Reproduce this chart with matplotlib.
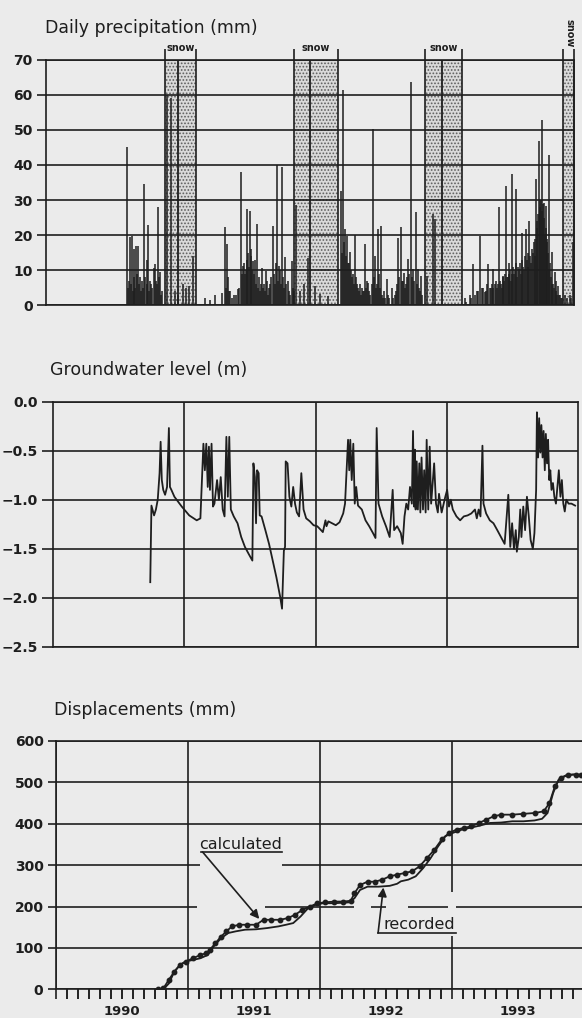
import matplotlib
matplotlib.use('Agg')
from matplotlib import pyplot as plt
from matplotlib.patches import Rectangle
from matplotlib.transforms import blended_transform_factory

W, H = 582, 1018
INK = '#1e1e1e'
PAPER = '#ebebeb'

# ---- daily precipitation (year, mm) ----
rain_time = [
    1990.611, 1990.620, 1990.628, 1990.636, 1990.642, 1990.650, 1990.657, 1990.663, 1990.669, 1990.676,
    1990.683, 1990.689, 1990.698, 1990.703, 1990.712, 1990.718, 1990.725, 1990.733, 1990.745, 1990.752,
    1990.762, 1990.768, 1990.775, 1990.783, 1990.790, 1990.795, 1990.804, 1990.818, 1990.827, 1990.833,
    1990.840, 1990.851, 1990.857, 1990.864, 1990.870, 1990.879, 1990.914, 1990.947, 1990.977, 1991.000,
    1991.038, 1991.061, 1991.083, 1991.114, 1991.205, 1991.242, 1991.280, 1991.331, 1991.356, 1991.362,
    1991.371, 1991.378, 1991.386, 1991.394, 1991.410, 1991.424, 1991.440, 1991.452, 1991.460, 1991.475,
    1991.483, 1991.490, 1991.498, 1991.508, 1991.513, 1991.520, 1991.525, 1991.530, 1991.538, 1991.545,
    1991.550, 1991.553, 1991.560, 1991.566, 1991.575, 1991.583, 1991.590, 1991.598, 1991.605, 1991.614,
    1991.622, 1991.630, 1991.639, 1991.645, 1991.652, 1991.660, 1991.667, 1991.675, 1991.682, 1991.689,
    1991.697, 1991.705, 1991.717, 1991.725, 1991.735, 1991.742, 1991.752, 1991.760, 1991.767, 1991.775,
    1991.783, 1991.790, 1991.798, 1991.805, 1991.811, 1991.820, 1991.833, 1991.840, 1991.850, 1991.861,
    1991.870, 1991.880, 1991.894, 1991.924, 1991.955, 1991.987, 1992.038, 1992.076, 1992.139, 1992.233,
    1992.240, 1992.248, 1992.256, 1992.265, 1992.272, 1992.283, 1992.288, 1992.295, 1992.303, 1992.310,
    1992.318, 1992.326, 1992.333, 1992.341, 1992.348, 1992.356, 1992.364, 1992.371, 1992.379, 1992.386,
    1992.394, 1992.402, 1992.410, 1992.417, 1992.425, 1992.432, 1992.442, 1992.450, 1992.458, 1992.467,
    1992.475, 1992.483, 1992.492, 1992.500, 1992.508, 1992.517, 1992.525, 1992.530, 1992.538, 1992.545,
    1992.550, 1992.561, 1992.570, 1992.581, 1992.590, 1992.600, 1992.619, 1992.630, 1992.644, 1992.650,
    1992.660, 1992.669, 1992.675, 1992.687, 1992.697, 1992.705, 1992.712, 1992.720, 1992.727, 1992.735,
    1992.745, 1992.750, 1992.763, 1992.770, 1992.783, 1992.790, 1992.803, 1992.810, 1992.820, 1992.826,
    1992.835, 1992.841, 1992.850, 1992.884, 1992.934, 1992.947, 1993.174, 1993.180, 1993.212, 1993.220,
    1993.237, 1993.250, 1993.265, 1993.275, 1993.288, 1993.300, 1993.311, 1993.326, 1993.330, 1993.341,
    1993.351, 1993.360, 1993.371, 1993.380, 1993.384, 1993.390, 1993.402, 1993.410, 1993.417, 1993.425,
    1993.432, 1993.440, 1993.447, 1993.455, 1993.460, 1993.465, 1993.470, 1993.478, 1993.485, 1993.490,
    1993.500, 1993.505, 1993.510, 1993.515, 1993.523, 1993.528, 1993.533, 1993.538, 1993.545, 1993.550,
    1993.558, 1993.563, 1993.568, 1993.575, 1993.583, 1993.590, 1993.598, 1993.603, 1993.608, 1993.615,
    1993.621, 1993.628, 1993.636, 1993.642, 1993.648, 1993.655, 1993.661, 1993.668, 1993.674, 1993.680,
    1993.687, 1993.695, 1993.701, 1993.705, 1993.712, 1993.717, 1993.723, 1993.728, 1993.735, 1993.740,
    1993.746, 1993.750, 1993.755, 1993.760, 1993.765, 1993.770, 1993.773, 1993.780, 1993.785, 1993.788,
    1993.793, 1993.799, 1993.803, 1993.808, 1993.812, 1993.818, 1993.825, 1993.833, 1993.837, 1993.841,
    1993.848, 1993.856, 1993.860, 1993.867, 1993.872, 1993.881, 1993.887, 1993.894, 1993.900, 1993.910,
    1993.930, 1993.950, 1993.970, 1993.980, 1993.996,
]
rain_mm = [
    45, 5, 7, 19.6, 6, 19.8, 4, 8, 16, 5,
    17, 9, 17, 6, 8, 4, 7, 5, 34.6, 8,
    13, 6, 23, 4, 7, 6, 5, 10.8, 11.7, 7,
    6, 28, 8, 9.4, 3, 4, 60, 59, 4, 3,
    6, 5, 5.5, 14, 2.2, 1.7, 3.1, 3.6, 22.2, 5,
    17.4, 8, 4, 4, 2, 3, 3, 4.6, 5, 37.9,
    9, 11.2, 12, 9, 10, 27.4, 13, 15, 11, 27,
    16, 14, 10, 12.6, 9, 13, 6, 23.1, 5, 8,
    4, 6, 10.8, 5, 6, 4, 9.7, 7, 3, 5,
    6, 8, 22.7, 9, 6, 12, 40, 7, 11.2, 10,
    6, 39.3, 8, 5, 13.9, 6, 7, 4, 3, 12.7,
    5, 4, 28.5, 4, 6, 13.6, 5.5, 3.3, 2.7, 32.7,
    15, 61.2, 18, 21.8, 14, 19.9, 12, 12, 15.2, 10,
    8, 9, 6, 20, 8, 6, 5, 4, 6, 3,
    5, 4, 4, 17.4, 5, 7, 6.5, 4, 3, 6,
    50.1, 8, 14.1, 5, 6, 21.7, 9, 5, 22.7, 3,
    2, 4, 2, 7.4, 3, 2, 5, 2, 3, 4,
    6, 19.3, 8, 22.2, 7, 7, 9.3, 5, 6, 8,
    13.1, 9, 63.6, 8, 10.3, 7, 26.5, 6, 10.3, 5,
    4, 8.3, 3, 8.4, 26, 24.6, 2, 1, 3, 2,
    11.7, 3, 4, 4, 19.8, 5, 5, 3.9, 4, 6,
    11.7, 5, 5, 6, 10.3, 5, 6, 7, 5, 6,
    27.9, 7, 6, 5, 8.4, 8, 7, 9, 34.1, 8,
    8, 9, 12.2, 10, 7, 9, 37.4, 11, 9, 10,
    33.1, 12, 8, 11, 10.3, 12, 9, 13, 20.7, 11,
    10, 14, 21.7, 13, 11, 15, 24.1, 14, 12, 16,
    15, 18, 14, 19, 36, 24, 22, 26, 46.9, 28,
    30, 30, 52.7, 27, 29, 25, 29.3, 20, 22, 28.4,
    19, 18, 15, 42.7, 10, 12, 8, 15.2, 6, 6,
    5, 9.5, 4, 7, 3, 5.5, 3, 3, 2, 2,
    3, 2, 3, 2, 18,
]
snow_start = [1990.90, 1991.88, 1992.87, 1993.92]
snow_end = [1991.14, 1992.21, 1993.15, 1994.00]

# ---- groundwater level (year, m) ----
gw_time = [
    1990.741, 1990.750, 1990.770, 1990.784, 1990.798, 1990.812, 1990.820, 1990.829, 1990.840, 1990.854,
    1990.869, 1990.883, 1990.891, 1990.902, 1990.925, 1990.981, 1991.038, 1991.095, 1991.123, 1991.146,
    1991.157, 1991.168, 1991.179, 1991.188, 1991.196, 1991.208, 1991.219, 1991.230, 1991.250, 1991.264,
    1991.278, 1991.293, 1991.307, 1991.321, 1991.332, 1991.343, 1991.355, 1991.377, 1991.406, 1991.434,
    1991.462, 1991.490, 1991.519, 1991.527, 1991.538, 1991.547, 1991.555, 1991.567, 1991.575, 1991.589,
    1991.618, 1991.646, 1991.674, 1991.702, 1991.731, 1991.745, 1991.759, 1991.768, 1991.773, 1991.787,
    1991.801, 1991.816, 1991.830, 1991.844, 1991.858, 1991.875, 1991.892, 1991.909, 1991.929, 1991.957,
    1991.985, 1992.013, 1992.028, 1992.056, 1992.076, 1992.084, 1992.098, 1992.127, 1992.155, 1992.183,
    1992.211, 1992.225, 1992.240, 1992.248, 1992.257, 1992.265, 1992.276, 1992.288, 1992.299, 1992.310,
    1992.324, 1992.353, 1992.381, 1992.409, 1992.438, 1992.457, 1992.466, 1992.480, 1992.508, 1992.537,
    1992.565, 1992.588, 1992.599, 1992.622, 1992.650, 1992.664, 1992.678, 1992.692, 1992.706, 1992.720,
    1992.734, 1992.743, 1992.751, 1992.757, 1992.763, 1992.771, 1992.780, 1992.791, 1992.799, 1992.808,
    1992.819, 1992.828, 1992.839, 1992.847, 1992.859, 1992.870, 1992.881, 1992.904, 1992.918, 1992.932,
    1992.941, 1992.961, 1992.989, 1993.003, 1993.017, 1993.031, 1993.046, 1993.074, 1993.102, 1993.130,
    1993.159, 1993.187, 1993.215, 1993.229, 1993.243, 1993.257, 1993.272, 1993.280, 1993.300, 1993.328,
    1993.356, 1993.385, 1993.413, 1993.441, 1993.469, 1993.484, 1993.498, 1993.512, 1993.526, 1993.534,
    1993.549, 1993.560, 1993.569, 1993.583, 1993.597, 1993.611, 1993.625, 1993.639, 1993.656, 1993.668,
    1993.681, 1993.687, 1993.696, 1993.704, 1993.713, 1993.721, 1993.730, 1993.738, 1993.747, 1993.755,
    1993.764, 1993.772, 1993.781, 1993.789, 1993.798, 1993.809, 1993.820, 1993.832, 1993.843, 1993.854,
    1993.866, 1993.877, 1993.888, 1993.899, 1993.911, 1993.928, 1993.950, 1993.978,
]
gw_level = [
    -1.84, -1.06, -1.16, -1.10, -1.00, -0.73, -0.41, -0.80, -0.90, -0.95,
    -0.87, -0.27, -0.87, -0.90, -0.97, -1.07, -1.16, -1.21, -1.19, -0.43,
    -0.70, -0.43, -0.87, -0.46, -0.90, -0.43, -1.07, -1.04, -0.80, -1.00,
    -0.77, -1.10, -1.17, -0.36, -0.97, -0.36, -1.10, -1.17, -1.24, -1.38,
    -1.48, -1.55, -1.62, -0.63, -0.77, -1.24, -0.70, -0.73, -1.16, -1.17,
    -1.31, -1.45, -1.62, -1.79, -1.99, -2.11, -1.52, -1.48, -0.61, -0.63,
    -0.97, -1.07, -0.87, -1.04, -1.13, -1.17, -0.73, -1.10, -1.19, -1.22,
    -1.26, -1.27, -1.29, -1.33, -1.21, -1.27, -1.22, -1.24, -1.26, -1.23,
    -1.14, -1.04, -0.63, -0.39, -0.70, -0.39, -0.80, -0.43, -1.04, -0.87,
    -1.06, -1.10, -1.21, -1.27, -1.34, -1.39, -0.27, -1.04, -1.17, -1.27,
    -1.38, -0.90, -1.31, -1.27, -1.34, -1.45, -1.17, -1.04, -1.10, -0.87,
    -1.04, -0.30, -1.07, -0.49, -1.10, -0.61, -1.10, -0.63, -1.13, -0.57,
    -1.10, -0.70, -1.13, -0.39, -1.10, -0.46, -1.04, -0.63, -1.04, -1.13,
    -0.94, -1.13, -0.97, -0.90, -1.07, -1.00, -1.10, -1.17, -1.21, -1.17,
    -1.16, -1.14, -1.10, -1.19, -1.10, -1.17, -0.45, -1.04, -1.14, -1.21,
    -1.24, -1.31, -1.38, -1.45, -0.95, -1.48, -1.24, -1.50, -1.31, -1.53,
    -1.38, -1.10, -1.38, -1.07, -1.31, -0.97, -1.17, -1.41, -1.50, -1.34,
    -0.90, -0.11, -0.57, -0.17, -0.52, -0.24, -0.57, -0.30, -0.70, -0.33,
    -0.63, -0.39, -0.80, -0.70, -0.90, -0.83, -0.97, -1.04, -0.87, -0.70,
    -0.97, -0.80, -1.04, -1.12, -1.00, -1.04, -1.04, -1.06,
]

# ---- displacements (year, mm) ----
calc_time = [
    1990.771, 1990.813, 1990.855, 1990.897, 1990.940, 1990.982, 1991.038, 1991.094, 1991.136, 1991.164,
    1991.207, 1991.249, 1991.291, 1991.333, 1991.389, 1991.446, 1991.516, 1991.572, 1991.628, 1991.699,
    1991.755, 1991.811, 1991.867, 1991.924, 1991.980, 1992.036, 1992.107, 1992.177, 1992.233, 1992.261,
    1992.303, 1992.360, 1992.416, 1992.472, 1992.528, 1992.584, 1992.641, 1992.697, 1992.754, 1992.810,
    1992.866, 1992.922, 1992.979, 1993.035, 1993.091, 1993.147, 1993.204, 1993.260, 1993.316, 1993.372,
    1993.457, 1993.541, 1993.625, 1993.695, 1993.738, 1993.780, 1993.822, 1993.878, 1993.937, 1993.978,
]
calc_mm = [
    0, 2, 23, 43, 59, 67, 75, 83, 87, 95,
    111, 127, 140, 152, 156, 156, 156, 168, 168, 168,
    172, 180, 192, 200, 208, 210, 212, 212, 214, 232,
    252, 260, 260, 265, 273, 277, 281, 285, 297, 317,
    337, 362, 378, 386, 390, 394, 402, 410, 418, 422,
    422, 424, 426, 430, 450, 491, 511, 519, 519, 519,
]
rec_time = [
    1990.757, 1990.813, 1990.855, 1990.897, 1990.940, 1990.982, 1991.038, 1991.094, 1991.150, 1991.193,
    1991.249, 1991.305, 1991.361, 1991.432, 1991.516, 1991.600, 1991.685, 1991.743, 1991.797, 1991.853,
    1991.910, 1991.966, 1992.023, 1992.107, 1992.219, 1992.261, 1992.303, 1992.360, 1992.444, 1992.528,
    1992.584, 1992.613, 1992.669, 1992.725, 1992.782, 1992.838, 1992.894, 1992.950, 1993.007, 1993.077,
    1993.133, 1993.204, 1993.288, 1993.372, 1993.457, 1993.541, 1993.625, 1993.682, 1993.724, 1993.766,
    1993.808, 1993.864, 1993.920, 1993.978,
]
rec_mm = [
    0, 0, 14, 43, 59, 67, 71, 75, 83, 103,
    123, 136, 140, 144, 145, 148, 152, 156, 160, 176,
    196, 204, 208, 208, 210, 220, 240, 248, 248, 250,
    255, 261, 265, 273, 293, 317, 345, 370, 378, 386,
    390, 395, 402, 403, 406, 406, 408, 412, 426, 474,
    507, 516, 519, 517,
]

years = [1990, 1991, 1992, 1993]
precip_ticks = [0, 10, 20, 30, 40, 50, 60, 70]
gw_ticks = [0.0, -0.5, -1.0, -1.5, -2.0, -2.5]
gw_labels = ['0.0', '\u22120.5', '\u22121.0', '\u22121.5', '\u22122.0', '\u22122.5']
disp_ticks = [0, 100, 200, 300, 400, 500, 600]


def px_axes(fig, left, top, right, bottom):
    # place an axes using pixel edges measured on the scan
    return fig.add_axes([left / W, 1 - bottom / H, (right - left) / W, (bottom - top) / H])


def style(ax, ytick_len):
    ax.set_facecolor(PAPER)
    for sp in ax.spines.values():
        sp.set_color(INK)
        sp.set_linewidth(1.2)
    ax.tick_params(axis='y', length=ytick_len, width=1.2, color=INK, pad=3, labelsize=10, labelcolor=INK)
    ax.tick_params(axis='x', color=INK)
    ax.set_xlim(1990, 1994)


def gap(ax, x0, x1, y0, y1):
    # paper-coloured patch, the scan has gridlines broken around the labels
    ax.add_patch(Rectangle((x0, y0), x1 - x0, y1 - y0, facecolor=PAPER, lw=0, zorder=2.7))


plt.rcParams['font.family'] = ['DejaVu Sans']
plt.rcParams['hatch.linewidth'] = 0.8
fig = plt.figure(figsize=(W / 100, H / 100), dpi=100, facecolor=PAPER)

# precipitation
ax1 = px_axes(fig, 46, 59.5, 574, 305.5)
style(ax1, 6.5)
ax1.set_ylim(0, 70)
ax1.set_yticks(precip_ticks, [str(t) for t in precip_ticks], fontweight='bold')
ax1.set_xticks([])
ax1.grid(axis='y', color=INK, lw=1.2)
ax1.set_axisbelow(False)
for s, e in zip(snow_start, snow_end):
    ax1.axvspan(s, e, facecolor='#d9d9d9', edgecolor='#5e5e5e', hatch='.....', lw=0, zorder=1)
    ax1.vlines([s, e], 0, 73.0, color=INK, lw=1.2, clip_on=False, zorder=4)
for s, e in zip(snow_start[:3], snow_end[:3]):
    ax1.text((s + e) / 2, 73.2, 'snow', ha='center', va='center', fontsize=7,
             fontweight='bold', color=INK, clip_on=False)
ax1.text(1993.965, 77.5, 'snow', ha='center', va='center', fontsize=7, rotation=-90,
         fontweight='bold', color=INK, clip_on=False)
ax1.vlines(years[1:], 0, 70, color=INK, lw=1.3, zorder=4)
ax1.vlines(rain_time, 0, rain_mm, color=INK, lw=1.1, zorder=3)
fig.text(45 / W, 1 - 28 / H, 'Daily precipitation (mm)', fontsize=12.5, va='center', color=INK)

# groundwater
ax2 = px_axes(fig, 53, 401.5, 578, 647)
style(ax2, 8)
ax2.set_ylim(-2.5, 0)
ax2.set_yticks(gw_ticks, gw_labels, fontweight='bold')
ax2.set_xticks(years[1:], [])
ax2.tick_params(axis='x', length=0)
ax2.grid(color=INK, lw=1.2)
ax2.plot(gw_time, gw_level, color=INK, lw=1.3, zorder=3)
fig.text(50 / W, 1 - 370 / H, 'Groundwater level (m)', fontsize=12.5, va='center', color=INK)

# displacements
ax3 = px_axes(fig, 56, 741, 584, 989.3)
style(ax3, 6)
ax3.set_ylim(0, 600)
ax3.set_yticks(disp_ticks, [str(t) for t in disp_ticks], fontweight='bold')
ax3.set_xticks(years + [1994], [])
ax3.set_xticks([1990 + m / 12 for m in range(49)], minor=True)
ax3.tick_params(axis='x', which='both', length=7, width=1.2, direction='out')
ax3.grid(which='major', color=INK, lw=1.2)
gap(ax3, 1991.09, 1991.71, 290, 310)
gap(ax3, 1991.07, 1991.58, 190, 210)
gap(ax3, 1992.26, 1992.39, 190, 210)
gap(ax3, 1992.50, 1992.67, 190, 210)
gap(ax3, 1992.97, 1993.03, 130, 235)
ax3.plot(rec_time, rec_mm, color=INK, lw=1.3, zorder=3)
ax3.plot(calc_time, calc_mm, color=INK, lw=1.3, marker='o', ms=3.2, zorder=4)
tr = blended_transform_factory(ax3.transData, ax3.transAxes)
for y in years:
    ax3.text(y + 0.5, -0.09, str(y), transform=tr, ha='center', va='center',
             fontsize=9.5, fontweight='bold', color=INK)

ax3.text(1991.40, 350, 'calculated', ha='center', va='center', fontsize=11.5, color=INK)
ax3.plot([1991.10, 1991.71], [332, 332], color=INK, lw=1.2, zorder=3)
ax3.annotate('', xy=(1991.54, 170), xytext=(1991.11, 332),
             arrowprops=dict(arrowstyle='-|>', color=INK, lw=1.2, mutation_scale=13,
                             shrinkA=0, shrinkB=0), zorder=5)
ax3.text(1992.75, 157, 'recorded', ha='center', va='center', fontsize=11.5, color=INK)
ax3.plot([1992.44, 1993.03], [136, 136], color=INK, lw=1.2, zorder=3)
ax3.annotate('', xy=(1992.48, 246), xytext=(1992.44, 136),
             arrowprops=dict(arrowstyle='-|>', color=INK, lw=1.2, mutation_scale=13,
                             shrinkA=0, shrinkB=0), zorder=5)
fig.text(54 / W, 1 - 710 / H, 'Displacements (mm)', fontsize=12.5, va='center', color=INK)

fig.savefig('out.png', dpi=100, facecolor=PAPER)
